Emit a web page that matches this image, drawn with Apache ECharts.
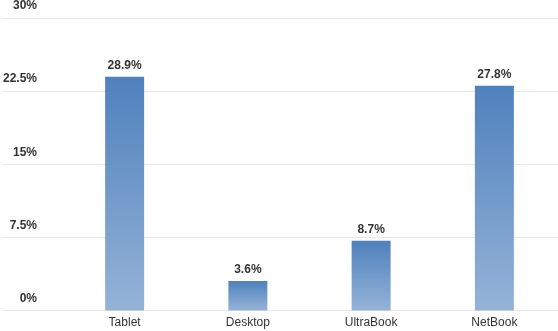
<!DOCTYPE html>
<html>
<head>
<meta charset="utf-8">
<script src="https://cdn.jsdelivr.net/npm/echarts@6/dist/echarts.min.js"></script>
<style>html,body{margin:0;padding:0;background:#fff}#c{width:558px;height:331px}</style>
</head>
<body>
<div id="c"></div>
<script>
var categories = ['Tablet', 'Desktop', 'UltraBook', 'NetBook'];
var barValues = [23.8, 3.0, 7.1, 22.9];
var barLabels = ['28.9%', '3.6%', '8.7%', '27.8%'];
var yTicks = [0, 7.5, 15, 22.5, 30];
var yMin = 0, yMax = 30, yInterval = 7.5;

var chart = echarts.init(document.getElementById('c'), null, {renderer: 'canvas'});
var font = 'Liberation Sans, Arial, sans-serif';
chart.setOption({
  animation: false,
  grid: [
    {left: 2, right: 0, top: 16, bottom: 20.5},
    {left: 63, right: 2, top: 16, bottom: 20.5}
  ],
  xAxis: [
    {gridIndex: 0, type: 'value', show: false, min: 0, max: 1},
    {gridIndex: 1, type: 'category', data: categories,
     axisLine: {show: false}, axisTick: {show: false},
     axisLabel: {color: '#333', fontSize: 12, fontFamily: font, margin: 6}}
  ],
  yAxis: [
    {gridIndex: 0, type: 'value', min: yMin, max: yMax, interval: yInterval,
     axisLine: {show: false}, axisTick: {show: false},
     splitLine: {lineStyle: {color: '#e8e8e8', width: 1}},
     axisLabel: {inside: true, align: 'right', margin: 35, verticalAlign: 'bottom',
       padding: [0, 0, 6, 0], color: '#333', fontSize: 12, fontWeight: 'bold', fontFamily: font,
       formatter: function (v) { return yTicks.indexOf(v) >= 0 ? v + '%' : ''; }}},
    {gridIndex: 1, type: 'value', min: yMin, max: yMax, interval: yInterval, show: false,
     splitLine: {show: false}}
  ],
  series: [{
    type: 'bar', xAxisIndex: 1, yAxisIndex: 1,
    data: barValues, barWidth: 39,
    itemStyle: {
      color: new echarts.graphic.LinearGradient(0, 0, 0, 1, [
        {offset: 0, color: '#4f81bd'},
        {offset: 1, color: '#95b3d7'}
      ])
    },
    label: {show: true, position: 'top', distance: 5, color: '#333', fontSize: 12,
      fontWeight: 'bold', fontFamily: font,
      formatter: function (p) { return barLabels[p.dataIndex]; }}
  }]
});
</script>
</body>
</html>
